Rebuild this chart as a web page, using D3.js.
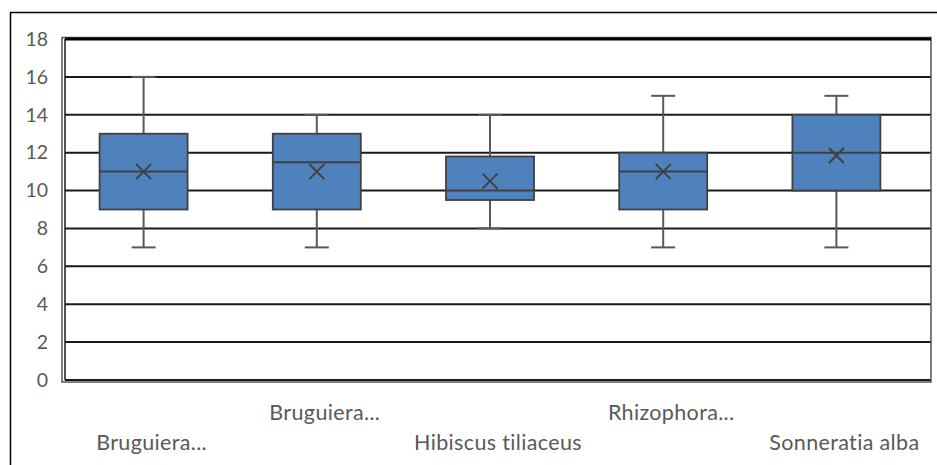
<!DOCTYPE html>
<html><head><meta charset="utf-8">
<script src="https://cdn.jsdelivr.net/npm/d3@7"></script>
<style>body{margin:0;background:#fff}svg{display:block}</style>
</head><body>
<svg id="c" width="937" height="465"></svg>
<script>
const categories = ["Bruguiera...", "Bruguiera...", "Hibiscus tiliaceus", "Rhizophora...", "Sonneratia alba"];
const whiskerLow  = [7, 7, 8, 7, 7];
const q1          = [9, 9, 9.5, 9, 10];
const median      = [11, 11.5, 10, 11, 12];
const q3          = [13, 13, 11.8, 12, 14];
const whiskerHigh = [16, 14, 14, 15, 15];
const mean        = [11, 11, 10.5, 11, 11.85];
const yTicks = [0, 2, 4, 6, 8, 10, 12, 14, 16, 18];

const svg = d3.select("#c");
const L = 65, R = 931, T = 39, B = 380;
const font = "Lato, 'Open Sans', sans-serif";

// outer chart border
svg.append("rect").attr("x", 10.5).attr("y", 12.5).attr("width", 940).attr("height", 470)
  .attr("fill", "none").attr("stroke", "#000").attr("stroke-width", 1.5);

const y = d3.scaleLinear().domain([0, 18]).range([B, T]);
const x = d3.scaleBand().domain(d3.range(categories.length)).range([L, R]).padding(0);

// gridlines
svg.append("g").selectAll("line").data(yTicks).join("line")
  .attr("x1", L).attr("x2", R).attr("y1", d => y(d)).attr("y2", d => y(d))
  .attr("stroke", "#1a1a1a").attr("stroke-width", 2);

// plot frame
svg.append("rect").attr("x", 62).attr("y", 37.5).attr("width", R - 62).attr("height", B + 2 - 37.5)
  .attr("fill", "none").attr("stroke", "#555").attr("stroke-width", 1.5);
svg.append("line").attr("x1", L).attr("x2", L).attr("y1", T).attr("y2", B)
  .attr("stroke", "#1a1a1a").attr("stroke-width", 1.5);
svg.append("line").attr("x1", L).attr("x2", R).attr("y1", T).attr("y2", T)
  .attr("stroke", "#000").attr("stroke-width", 3);

// y axis labels
const yAxis = d3.axisLeft(y).tickValues(yTicks).tickSize(0).tickPadding(0);
const ga = svg.append("g").attr("transform", `translate(48,0)`).call(yAxis);
ga.select(".domain").remove();
ga.selectAll("text").attr("font-family", font).attr("font-size", 19.5).attr("fill", "#595959");

const bw = 88, cap = 24, off = -8;
const cx = i => x(i) + x.bandwidth() / 2 + off;
const idx = d3.range(categories.length);
const g = svg.append("g");
const grey = "#595959", dark = "#404040";

// whiskers
g.selectAll(".wl").data(idx).join("line")
  .attr("x1", cx).attr("x2", cx).attr("y1", i => y(whiskerLow[i])).attr("y2", i => y(q1[i]))
  .attr("stroke", grey).attr("stroke-width", 2);
g.selectAll(".wh").data(idx).join("line")
  .attr("x1", cx).attr("x2", cx).attr("y1", i => y(whiskerHigh[i])).attr("y2", i => y(q3[i]))
  .attr("stroke", grey).attr("stroke-width", 2);
g.selectAll(".cl").data(idx).join("line")
  .attr("x1", i => cx(i) - cap / 2).attr("x2", i => cx(i) + cap / 2)
  .attr("y1", i => y(whiskerLow[i])).attr("y2", i => y(whiskerLow[i]))
  .attr("stroke", grey).attr("stroke-width", 2);
g.selectAll(".ch").data(idx).join("line")
  .attr("x1", i => cx(i) - cap / 2).attr("x2", i => cx(i) + cap / 2)
  .attr("y1", i => y(whiskerHigh[i])).attr("y2", i => y(whiskerHigh[i]))
  .attr("stroke", grey).attr("stroke-width", 2);

// boxes
g.selectAll("rect").data(idx).join("rect")
  .attr("x", i => cx(i) - bw / 2).attr("width", bw)
  .attr("y", i => y(q3[i])).attr("height", i => y(q1[i]) - y(q3[i]))
  .attr("fill", "#4F81BD").attr("stroke", dark).attr("stroke-width", 1.8);
g.selectAll(".med").data(idx).join("line")
  .attr("x1", i => cx(i) - bw / 2).attr("x2", i => cx(i) + bw / 2)
  .attr("y1", i => y(median[i])).attr("y2", i => y(median[i]))
  .attr("stroke", dark).attr("stroke-width", 2);

// mean markers
const ms = 7.5;
idx.forEach(i => {
  const mx = cx(i), my = y(mean[i]);
  g.append("path").attr("d", `M${mx - ms},${my - ms}L${mx + ms},${my + ms}M${mx - ms},${my + ms}L${mx + ms},${my - ms}`)
    .attr("stroke", dark).attr("stroke-width", 2).attr("fill", "none");
});

// x labels (staggered)
svg.append("g").selectAll("text").data(idx).join("text")
  .attr("x", i => x(i) + x.bandwidth() / 2)
  .attr("y", i => i % 2 === 0 ? 450 : 420)
  .attr("text-anchor", "middle")
  .attr("font-family", font).attr("font-size", 21.5).attr("letter-spacing", 0.35).attr("fill", "#595959")
  .text(i => categories[i]);
</script>
</body></html>
